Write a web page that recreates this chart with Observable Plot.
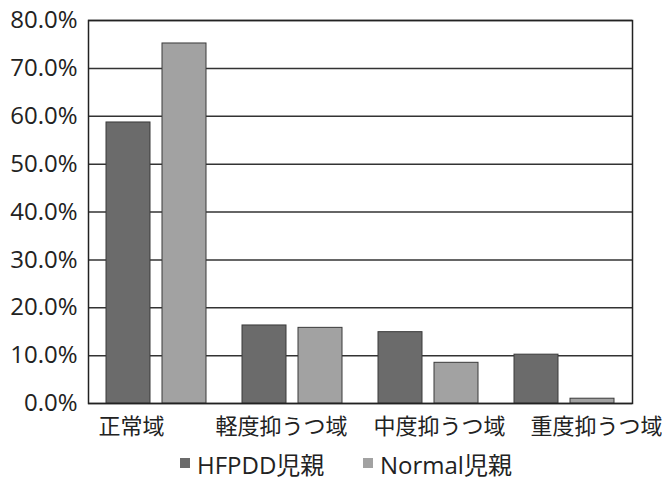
<!DOCTYPE html>
<html>
<head>
<meta charset="utf-8">
<script src="https://cdn.jsdelivr.net/npm/d3@7"></script>
<script src="https://cdn.jsdelivr.net/npm/@observablehq/plot@0.6"></script>
<style>
  body { margin: 0; background: #fff; font-family: "Open Sans", "Noto Sans CJK JP", sans-serif; }
  #chart { width: 662px; }
  #legend { position: relative; height: 38px; margin-top: -3px; font-size: 24px; color: #222; }
  .item { position: absolute; top: 0; display: flex; align-items: center; gap: 7px; height: 38px; }
  .sw { width: 10px; height: 10px; display: inline-block; }
</style>
</head>
<body>
<div id="chart"></div>
<div id="legend"></div>
<script>
// Depression-score bands and the share of parents falling into each
const categories = ["正常域", "軽度抑うつ域", "中度抑うつ域", "重度抑うつ域"];
const seriesNames = ["HFPDD児親", "Normal児親"];
const hfpddValues = [58.7, 16.3, 14.9, 10.2];
const normalValues = [75.2, 15.8, 8.5, 1.0];
const yTicks = [0, 10, 20, 30, 40, 50, 60, 70, 80];
const seriesColors = ["#6b6b6b", "#a2a2a2"];

// horizontal nudges that keep the long category labels apart
const labelShift = [-25, -11, 11, 32];

const rows = categories.flatMap((c, i) => [
  {category: c, series: seriesNames[0], value: hfpddValues[i]},
  {category: c, series: seriesNames[1], value: normalValues[i]}
]);

const bar = (name, color, dx) => Plot.barY(rows.filter(d => d.series === name), {
  x: "category", y: "value", fill: color, stroke: "#3a3a3a", strokeWidth: 1,
  insetLeft: 46, insetRight: 46, dx
});

const categoryLabels = categories.map((c, i) => Plot.text([c], {
  x: d => d, text: d => d, frameAnchor: "bottom", lineAnchor: "top",
  dy: 15, dx: labelShift[i], fontSize: 22, fill: "#222"
}));

const chart = Plot.plot({
  width: 662,
  height: 447,
  marginLeft: 88,
  marginRight: 30,
  marginTop: 20,
  marginBottom: 44,
  style: { fontFamily: "'Open Sans', 'Noto Sans CJK JP', sans-serif", fontSize: "24px", color: "#222", background: "#fff", overflow: "visible" },
  x: { domain: categories, padding: 0, axis: null },
  y: { domain: [0, 80], ticks: yTicks, tickFormat: d => d.toFixed(1) + "%", label: null, tickSize: 0, tickPadding: 11 },
  marks: [
    Plot.ruleY(yTicks, { stroke: "#333", strokeWidth: 1.5 }),
    bar(seriesNames[0], seriesColors[0], -28),
    bar(seriesNames[1], seriesColors[1], 28),
    Plot.frame({ stroke: "#222", strokeWidth: 1.5 }),
    ...categoryLabels
  ]
});
document.getElementById("chart").append(chart);

const legendLeft = [180, 363];
const legend = d3.select("#legend");
seriesNames.forEach((name, i) => {
  const item = legend.append("span").attr("class", "item").style("left", legendLeft[i] + "px");
  item.append("span").attr("class", "sw").style("background", seriesColors[i]);
  item.append("span").text(name);
});
</script>
</body>
</html>
